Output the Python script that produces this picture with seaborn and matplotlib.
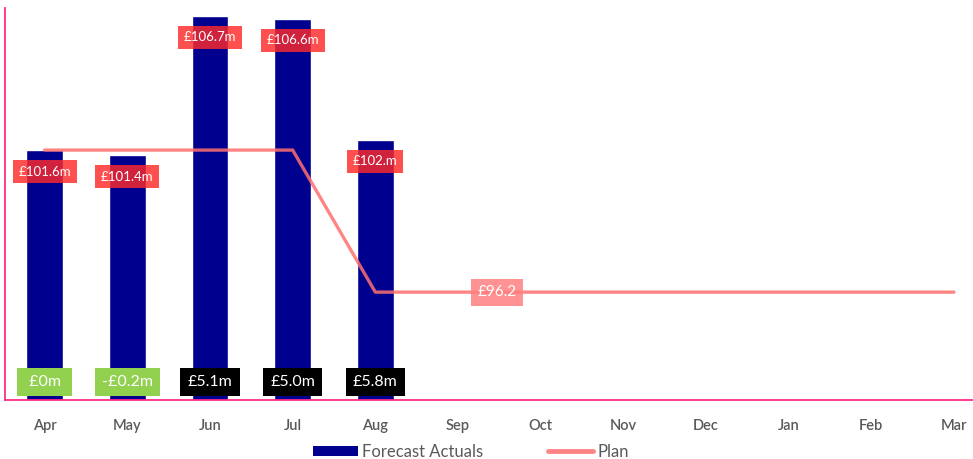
import numpy as np
import pandas as pd
import matplotlib
matplotlib.use("Agg")
import matplotlib.pyplot as plt
from matplotlib.patches import Patch
from matplotlib.lines import Line2D
import seaborn as sns

sns.set_theme(style="white")
plt.rcParams["font.family"] = ["Lato", "DejaVu Sans"]

months = ["Apr", "May", "Jun", "Jul", "Aug", "Sep", "Oct", "Nov", "Dec", "Jan", "Feb", "Mar"]
actuals = [101.6, 101.4, 106.7, 106.6, 102.0]
plan = [101.6, 101.6, 101.6, 101.6, 96.2, 96.2, 96.2, 96.2, 96.2, 96.2, 96.2, 96.2]
actual_labels = ["£101.6m", "£101.4m", "£106.7m", "£106.6m", "£102.m"]
plan_label = "£96.2"

NAVY = "#00008F"
PINK_AXIS = "#FF2D86"
PLAN_RED = "#FF7070"
LABEL_RED = "#FF2A2A"
GREEN = "#92D050"
GREY_TEXT = "#595959"

df = pd.DataFrame({
    "month": months,
    "actual": actuals + [np.nan] * (len(months) - len(actuals)),
    "plan": plan,
})

fig = plt.figure(figsize=(9.73, 4.59), dpi=100)
ax = fig.add_axes([5 / 973, 59 / 459, 968 / 973, 392 / 459])

sns.barplot(data=df, x="month", y="actual", order=months, color=NAVY,
            width=0.44, saturation=1, ax=ax, zorder=2)
sns.lineplot(x=np.arange(len(months)), y=df["plan"], color=PLAN_RED,
             linewidth=2.4, alpha=0.85, ax=ax, zorder=3)

ax.set_ylim(92.1, 107.0)
ax.set_xlim(-0.48, 11.23)

# value labels just below each bar top
for i, (v, lab) in enumerate(zip(actuals, actual_labels)):
    ax.annotate(lab, xy=(i, v), xytext=(0, -15.5), textcoords="offset points",
                ha="center", va="center", color="white", fontsize=9.5,
                zorder=5,
                bbox=dict(boxstyle="square,pad=0.42", fc=LABEL_RED, ec="none", alpha=0.82))

# variance against plan along the base of the chart
for i, v in enumerate(actuals):
    diff = round(v - plan[i], 1)
    if abs(diff) < 0.05:
        txt = " £0m "
    elif diff < 0:
        txt = f"-£{abs(diff):.1f}m"
    else:
        txt = f"£{diff:.1f}m"
    fc = GREEN if diff <= 0 else "black"
    ax.annotate(txt, xy=(i, 0.046), xycoords=("data", "axes fraction"),
                ha="center", va="center", color="white", fontsize=11.5, zorder=5,
                bbox=dict(boxstyle="square,pad=0.45", fc=fc, ec="none"))

# plan label
ax.annotate(plan_label, xy=(5.47, plan[5]), ha="center", va="center",
            color="white", fontsize=11, zorder=5,
            bbox=dict(boxstyle="square,pad=0.42", fc="#FF8080", ec="none", alpha=0.85))

for side in ["top", "right"]:
    ax.spines[side].set_visible(False)
for side in ["left", "bottom"]:
    ax.spines[side].set_color(PINK_AXIS)
    ax.spines[side].set_linewidth(1.3)

ax.set_yticks([])
ax.set_xlabel("")
ax.set_ylabel("")
ax.tick_params(axis="x", length=0, pad=14, labelsize=10.5, labelcolor=GREY_TEXT)
for t in ax.get_xticklabels():
    t.set_fontweight("semibold")

handles = [Patch(facecolor=NAVY, edgecolor="none"),
           Line2D([0], [0], color=PLAN_RED, lw=3.5, alpha=0.85)]
leg = fig.legend(handles, ["Forecast Actuals", "Plan"], loc="center",
                 bbox_to_anchor=(0.484, 1 - 452 / 459), ncol=2, frameon=False,
                 fontsize=12, handlelength=2.7, handleheight=0.6,
                 columnspacing=3.9, handletextpad=0.25, labelcolor=GREY_TEXT)

fig.savefig("out.png", dpi=100)
